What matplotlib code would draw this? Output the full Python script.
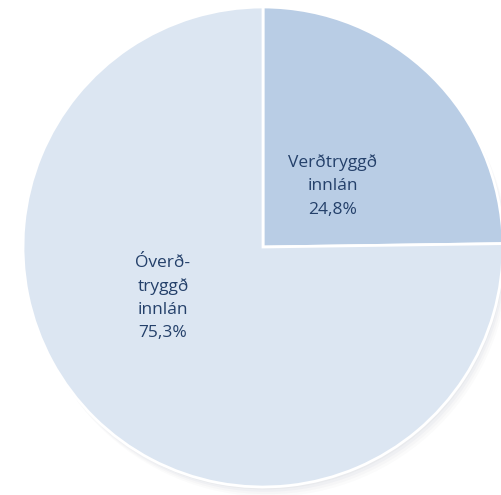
import matplotlib
matplotlib.use("Agg")
import matplotlib.pyplot as plt
from matplotlib.patches import Circle

categories = ["Verðtryggð\ninnlán", "Óverð-\ntryggð\ninnlán"]
values = [24.8, 75.3]
colors = ["#b9cde5", "#dce6f2"]

W, H = 502, 495
fig = plt.figure(figsize=(W / 100, H / 100), dpi=100)
ax = fig.add_axes([0, 0, 1, 1])
ax.set_axis_off()

cx, cy, R = 263, 247, 240
ax.set_xlim(-cx / R, (W - cx) / R)
ax.set_ylim(-(H - cy) / R, cy / R)
ax.set_aspect("equal")

# soft shadow
for i, a in enumerate([0.035, 0.03, 0.025, 0.02]):
    ax.add_patch(Circle((0.006 * (i + 1), -0.01 * (i + 1)), 1.0, color="#3a4a60",
                        alpha=a, lw=0, zorder=0))

labels = [f"{c}\n{str(v).replace('.', ',')}%" for c, v in zip(categories, values)]
wedges, texts = ax.pie(values, labels=labels, colors=colors, startangle=90,
                       counterclock=False, radius=1.0, labeldistance=0.4,
                       wedgeprops=dict(edgecolor="white", linewidth=2),
                       textprops=dict(color="#24406a", fontsize=12.5,
                                      family="Open Sans", ha="center",
                                      va="center", linespacing=1.6))
ax.set_xlim(-cx / R, (W - cx) / R)
ax.set_ylim(-(H - cy) / R, cy / R)
texts[0].set_position((70 / R, 61 / R))
texts[1].set_position((-100 / R, -51 / R))
for t in texts:
    t.set_ha("center")
    t.set_va("center")
    t.set_multialignment("center")

fig.savefig("out.png", dpi=100)
